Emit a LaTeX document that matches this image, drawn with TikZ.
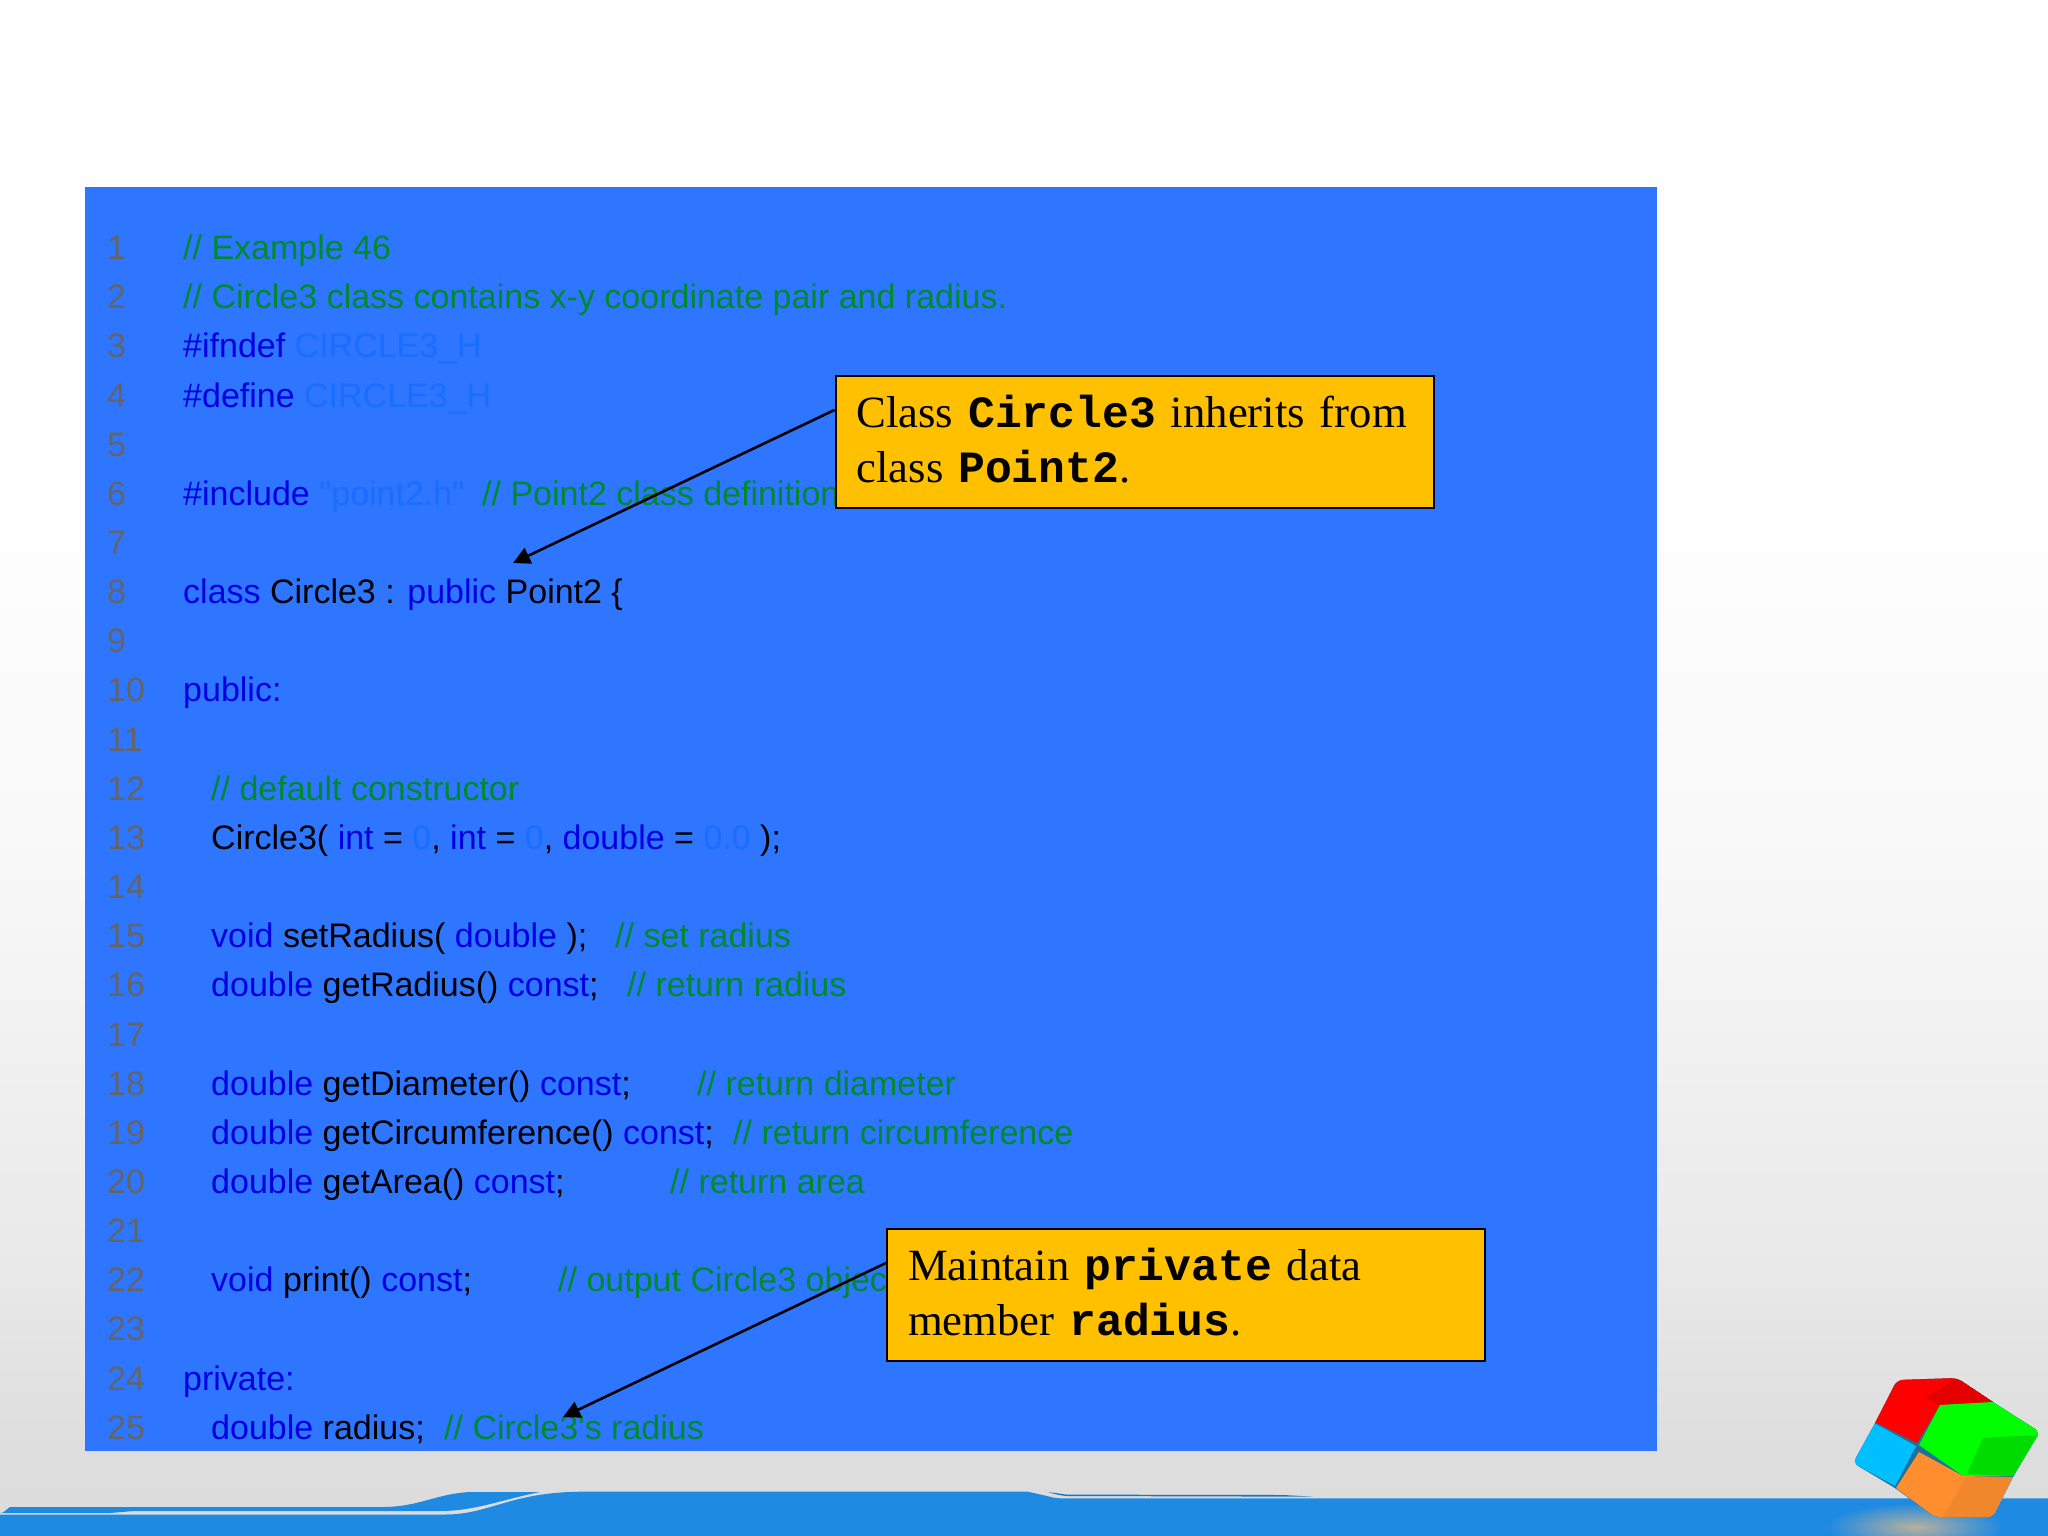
\documentclass[tikz,border=0pt]{standalone}
\usepackage{fontspec}
\setmainfont{Liberation Serif}
\setmonofont{Liberation Mono}
\newfontfamily\codefont[Ligatures=NoCommon]{Liberation Sans}
\usetikzlibrary{arrows.meta}
\definecolor{panelblue}{HTML}{2E75FF}
\definecolor{kwcol}{HTML}{0000E0}
\definecolor{cmcol}{HTML}{008A2E}
\definecolor{litcol}{HTML}{196DFF}
\definecolor{numcol}{HTML}{646464}
\definecolor{boxcol}{HTML}{FFC000}
\definecolor{bandcol}{HTML}{1E8AE2}
\definecolor{cubeblue}{HTML}{00BFFF}
\definecolor{cubeorange}{HTML}{FF8F2E}
\definecolor{cubeorangedk}{HTML}{F0872C}
\definecolor{cubeseam}{HTML}{20709A}
\definecolor{glowcol}{HTML}{B8B09C}
\pgfdeclareverticalshading{slidebg}{100bp}{
  rgb(0bp)=(0.86,0.86,0.86);
  rgb(25bp)=(0.86,0.86,0.86);
  rgb(28bp)=(0.87,0.87,0.87);
  rgb(34bp)=(0.915,0.915,0.915);
  rgb(41bp)=(0.945,0.945,0.945);
  rgb(47.5bp)=(0.975,0.975,0.975);
  rgb(57.5bp)=(0.995,0.995,0.995);
  rgb(65bp)=(1,1,1);
  rgb(100bp)=(1,1,1)}
\newcommand\kw[1]{\textcolor{kwcol}{#1}}
\newcommand\cmt[1]{\textcolor{cmcol}{#1}}
\newcommand\lit[1]{\textcolor{litcol}{#1}}
\newcommand\bm[1]{{\ttfamily\bfseries #1}}
\newcommand\lowstrut{\rule[-5pt]{0pt}{5pt}}
\newcommand\codeline[4]{\node[codetext] (#1) at (#3,{259.6+(#2-1)*49.15}) {#4};}
\tikzset{
  codetext/.style={anchor=base west,inner sep=0pt,font=\codefont\fontsize{34}{40}\selectfont},
  numtext/.style={codetext,text=numcol},
  callout/.style={draw=black,line width=2pt,fill=boxcol,minimum width=598pt,minimum height=132pt,
    inner xsep=21pt,inner ysep=0pt,text width=556pt,align=left,
    font=\fontsize{44.7}{55}\selectfont},
  pointer/.style={draw=black,line width=2.6pt,-{Triangle[length=17pt,width=17pt]}}
}
\begin{document}
\begin{tikzpicture}[x=1pt,y=-1pt]
\useasboundingbox (0,0) rectangle (2048,1536);
\shade[shading=slidebg] (0,0) rectangle (2048,1536);
% footer band
\fill[bandcol] (0,1514.5) -- (445,1514.5) .. controls (490,1514.5) and (510,1492) .. (582,1491.7)
  -- (1028,1491.7) -- (1050,1496.7) .. controls (1054,1498) and (1058,1498.3) .. (1063,1498.3) -- (2048,1498.3) -- (2048,1536) -- (0,1536) -- cycle;
\fill[bandcol] (0,1513) -- (3,1512.5) -- (10,1507) -- (383,1507) .. controls (420,1507) and (440,1492) .. (474,1492)
  -- (540,1492) .. controls (500,1500) and (475,1511) .. (440,1511) -- (134,1511) -- (110,1513) -- cycle;
\fill[black!15!bandcol] (1048,1492.3) .. controls (1055,1492.5) and (1060,1494) .. (1067,1494.6) -- (1283,1495) -- (1313,1496.6) -- (1283,1496.6) -- (1067,1496) .. controls (1060,1495.5) and (1055,1494) .. (1048,1492.3) -- cycle;
% shadow under the cube
\begin{scope}
\clip (1700,1498.3) rectangle (2048,1536);
\shade[inner color=glowcol,outer color=bandcol] (1915,1527) ellipse (88 and 24);
\end{scope}
% panel
\fill[panelblue] (85,187) rectangle (1657,1451);
% line numbers
\foreach \i in {1,...,25}{
  \node[numtext] (n\i) at (107,{259.6+(\i-1)*49.15}) {\i};
}
% code
\codeline{c1}{1}{183}{\cmt{// Example 46}}
\codeline{c2}{2}{183}{\cmt{// Circle3 class contains x-y coordinate pair and radius.}}
\codeline{c3}{3}{183}{\kw{\#ifndef} \lit{CIRCLE3\_H}}
\codeline{c4}{4}{183}{\kw{\#define} \lit{CIRCLE3\_H}}
\codeline{c6}{6}{183}{\kw{\#include} \lit{"point2.h"}}
\codeline{c6b}{6}{482}{\cmt{// Point2 class definition}}
\codeline{c8}{8}{183}{\kw{class} Circle3 : \kw{public} Point2 \{}
\codeline{c10}{10}{183}{\kw{public:}}
\codeline{c12}{12}{211}{\cmt{// default constructor}}
\codeline{c13}{13}{211}{Circle3( \kw{int} = \lit{0}, \kw{int} = \lit{0}, \kw{double} = \lit{0.0} );}
\codeline{c15}{15}{211}{\kw{void} setRadius( \kw{double} );}
\codeline{c15b}{15}{615}{\cmt{// set radius}}
\codeline{c16}{16}{211}{\kw{double} getRadius() \kw{const};}
\codeline{c16b}{16}{627}{\cmt{// return radius}}
\codeline{c18}{18}{211}{\kw{double} getDiameter() \kw{const};}
\codeline{c18b}{18}{697}{\cmt{// return diameter}}
\codeline{c19}{19}{211}{\kw{double} getCircumference() \kw{const};}
\codeline{c19b}{19}{733}{\cmt{// return circumference}}
\codeline{c20}{20}{211}{\kw{double} getArea() \kw{const};}
\codeline{c20b}{20}{670}{\cmt{// return area}}
\codeline{c22}{22}{211}{\kw{void} print() \kw{const};}
\codeline{c22b}{22}{558}{\cmt{// output Circle3 object}}
\codeline{c24}{24}{183}{\kw{private:}}
\codeline{c25}{25}{211}{\kw{double} radius;}
\codeline{c25b}{25}{444}{\cmt{// Circle3's radius}}
% callouts
\node[callout] (box1) at (1134.5,441.5) {Class \bm{Circle3} inherits from\\class \bm{Point2}.\lowstrut};
\node[callout] (box2) at (1186,1294.5) {Maintain \bm{private} data\\member \bm{radius}.\lowstrut};
\coordinate (tip1) at (513,563);
\coordinate (tip2) at (563,1417);
\draw[pointer] (box1.174) -- (tip1);
\draw[pointer] (box2.174) -- (tip2);
% cube
\begin{scope}
\path[clip,rounded corners=6pt] (1897,1380) -- (1957,1378) -- (1993,1402) -- (2040,1432) -- (2013,1477) -- (1993,1517) -- (1935,1517) -- (1895,1488) -- (1853,1463) -- (1875,1423) -- cycle;
\fill[cubeseam] (1840,1370) rectangle (2050,1520);
\fill[red] (1897,1380) -- (1957,1378) -- (1993,1402) -- (1940,1405) -- (1917,1443) -- (1875,1422) -- cycle;
\fill[black!10!red] (1925,1398) -- (1957,1378) -- (1993,1402) -- (1940,1405) -- cycle;
\fill[green] (1940,1405) -- (1993,1402) -- (2040,1432) -- (2013,1476) -- (1963,1476) -- (1919,1445) -- cycle;
\fill[black!14!green] (1983,1438) -- (2037,1435) -- (2013,1476) -- (1967,1474) -- cycle;
\fill[cubeblue] (1875,1423.5) -- (1916,1446) -- (1895,1486) -- (1853,1463) -- cycle;
\fill[cubeorange] (1919,1452) -- (1963,1476) -- (2013,1477) -- (1993,1517) -- (1935,1517) -- (1896,1488) -- cycle;
\fill[cubeorangedk] (1943,1517) -- (1966,1477) -- (2013,1477) -- (1993,1517) -- cycle;
\end{scope}
\end{tikzpicture}
\end{document}
